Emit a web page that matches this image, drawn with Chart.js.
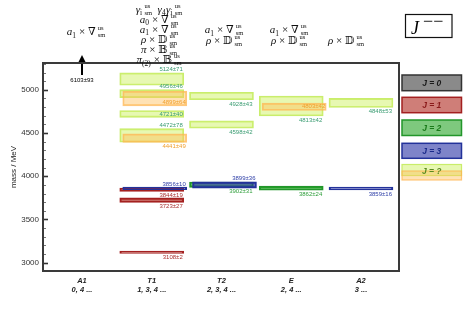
<!DOCTYPE html>
<html><head><meta charset="utf-8">
<script src="https://cdn.jsdelivr.net/npm/chart.js@4/dist/chart.umd.min.js"></script>
<style>html,body{margin:0;padding:0;background:#fff}canvas{display:block}</style>
</head><body><canvas id="c" width="463" height="314"></canvas>
<script>
// ---------- data ----------
const irreps = ['A1','T1','T2','E','A2'];
const irrepSpins = ['0, 4 ...','1, 3, 4 ...','2, 3, 4 ...','2, 4 ...','3 ...'];
const yTicks = [3000,3500,4000,4500,5000];

const levelIrrep = [0,1,1,1,1,1,1,1,1,1,1,2,2,2,2,3,3,3,4,4];
const levelMass  = [6103,5124,4956,4899,4721,4472,4441,3856,3844,3723,3108,4928,4598,3899,3902,4813,4803,3862,4848,3859];
const levelErr   = [93,71,46,85,40,78,49,10,19,27,2,43,42,36,31,115,42,24,53,16];
const levelLabel = ['6103±93','5124±71','4956±46','4899±64','4721±40','4472±78','4441±49','3856±10','3844±19','3723±27','3108±2','4928±43','4598±42','3899±36','3902±31','4813±42','4803±42','3862±24','4848±53','3859±16'];
const levelSpin  = ['0','?','?','?b','?','?','?b','3','1','1','1','?','?','3','2','?','?b','2','?','3'];

// ---------- styling (not data) ----------
const labelPos = ['arrow','a','a','ib','i','a','b','a','b','b','b','b','b','a','b','b','i','b','b','b'];
const shifted  = [0,0,0,1,0,0,1,1,0,0,0,0,0,1,0,0,1,0,0,0];
const SHIFT = 0.043, HALF = 32, MINBAR = 2.5;

const spinStyle = {
  '0': {fill:'rgba(60,60,60,0.6)',   border:'#333333', text:'#111111', legend:'#1a1a1a'},
  '1': {fill:'rgba(175,40,30,0.6)',  border:'#a32020', text:'#a83030', legend:'#8a1a1a'},
  '2': {fill:'rgba(40,165,40,0.6)',  border:'#22962a', text:'#2e9e3a', legend:'#1a7a1a'},
  '3': {fill:'rgba(40,50,165,0.6)',  border:'#23329a', text:'#3040a8', legend:'#1a2a8a'},
  '?': {fill:'rgba(212,242,115,0.55)', border:'rgba(198,236,100,0.95)', text:'#3a9c72', legend:'#5a8a20'},
  '?b':{fill:'rgba(255,190,90,0.45)', border:'rgba(255,180,80,0.75)', text:'#f0a030', legend:'#5a8a20'}
};
const drawOrder = ['3','2','1','0','?b','?']; // first = on top

const datasets = drawOrder.map(s => {
  const idx = levelSpin.map((v,i)=>v===s?i:-1).filter(i=>i>=0);
  return {
    label: 'J=' + s,
    data: idx.map(i => ({x: levelIrrep[i] + (shifted[i]?SHIFT:0), y: [levelMass[i]-levelErr[i], levelMass[i]+levelErr[i]]})),
    backgroundColor: spinStyle[s].fill,
    borderColor: spinStyle[s].border,
    borderWidth: (s==='?'||s==='?b') ? 1.2 : 1.5,
    borderSkipped: false,
    barThickness: HALF*2,
    grouped: false,
    minBarLength: MINBAR
  };
});

// ---------- math text helper ----------
const SERIF = '"Liberation Serif","DejaVu Serif","DejaVu Sans",serif';
function segFont(type){
  if (type==='i') return 'italic 11px ' + SERIF;
  if (type==='r') return '11px ' + SERIF;
  if (type==='b') return '7.5px ' + SERIF;
  return '6.5px ' + SERIF;
}
function drawMath(ctx, cx, base, segs){
  let w = 0;
  const items = segs.map(sg => {
    let width;
    if (sg[0]==='u') {
      ctx.font = segFont('u');
      width = Math.max(ctx.measureText('us').width, ctx.measureText('sm').width) + 2;
    } else {
      ctx.font = segFont(sg[0]);
      width = ctx.measureText(sg[1]).width + (sg[0]==='b'?0.3:0);
    }
    w += width;
    return {sg, width};
  });
  let x = cx - w/2;
  ctx.fillStyle = '#111';
  ctx.textAlign = 'left';
  ctx.textBaseline = 'alphabetic';
  items.forEach(it => {
    const t = it.sg[0];
    if (t==='u') {
      ctx.font = segFont('u');
      ctx.fillText('us', x+2, base-5);
      ctx.fillText('sm', x+2, base+2);
    } else if (t==='b') {
      ctx.font = segFont('b');
      ctx.fillText(it.sg[1], x, base+2.5);
    } else {
      ctx.font = segFont(t);
      ctx.fillText(it.sg[1], x, base);
    }
    x += it.width;
  });
}
const rowA = [['i','a'],['b','1'],['r',' × ∇'],['u']];
const rowA0 = [['i','a'],['b','0'],['r',' × ∇'],['u']];
const rowRho = [['i','ρ'],['r',' × 𝔻'],['u']];
const rowGam = [['i','γ'],['b','i'],['u'],['r','  '],['i','γ'],['b','4'],['i','γ'],['b','i'],['u']];
const rowPi = [['i','π'],['r',' × 𝔹'],['u']];
const rowPi2 = [['i','π'],['b','(2)'],['r',' × 𝔹'],['u']];
const opColumns = [
  {cx: 86,  rows: [[rowA,35]]},
  {cx: 159, rows: [[rowGam,12.5],[rowA0,22.5],[rowA,32.5],[rowRho,43],[rowPi,53],[rowPi2,63]]},
  {cx: 224, rows: [[rowA,33],[rowRho,44]]},
  {cx: 289, rows: [[rowA,33],[rowRho,44]]},
  {cx: 346, rows: [[rowRho,44]]}
];

const SANS = '"Liberation Sans","Arimo",Arial,sans-serif';

const overlay = {
  id: 'overlay',
  afterDatasetsDraw(chart){
    const ctx = chart.ctx, xs = chart.scales.x, ys = chart.scales.y, ca = chart.chartArea;
    ctx.save();
    ctx.font = '6px ' + SANS;
    levelMass.forEach((m,i) => {
      const st = spinStyle[levelSpin[i]];
      const xc = xs.getPixelForValue(levelIrrep[i] + (shifted[i]?SHIFT:0));
      if (m > ys.max) {
        const baseY = ca.top + 12, tipY = ca.top - 8;
        ctx.strokeStyle = '#000'; ctx.fillStyle = '#000'; ctx.lineWidth = 2;
        ctx.beginPath(); ctx.moveTo(xc, baseY); ctx.lineTo(xc, tipY+6); ctx.stroke();
        ctx.beginPath(); ctx.moveTo(xc-3.5, tipY+7); ctx.lineTo(xc+3.5, tipY+7); ctx.lineTo(xc, tipY); ctx.closePath(); ctx.fill();
        ctx.font = '6px ' + SANS;
        ctx.textAlign = 'center'; ctx.textBaseline = 'top';
        ctx.fillText(levelLabel[i], xc, baseY + 2);
        return;
      }
      let top = ys.getPixelForValue(m + levelErr[i]);
      const bot = ys.getPixelForValue(m - levelErr[i]);
      if (bot - top < MINBAR) top = bot - MINBAR;
      const right = xc + HALF - 1;
      ctx.fillStyle = st.text;
      ctx.textAlign = 'right';
      const p = labelPos[i];
      if (p==='a') { ctx.textBaseline='alphabetic'; ctx.fillText(levelLabel[i], right, top - 1.5); }
      else if (p==='b') { ctx.textBaseline='top'; ctx.fillText(levelLabel[i], right, bot + 1.2); }
      else if (p==='i') { ctx.textBaseline='middle'; ctx.fillText(levelLabel[i], right, (top+bot)/2); }
      else if (p==='ib') { ctx.textBaseline='alphabetic'; ctx.fillText(levelLabel[i], right, bot - 1.5); }
    });
    ctx.restore();
  },
  afterDraw(chart){
    const ctx = chart.ctx, ys = chart.scales.y, ca = chart.chartArea;
    ctx.save();
    for (let v = Math.ceil(ys.min/100)*100; v <= ys.max; v += 100) {
      const y = Math.round(ys.getPixelForValue(v)) + 0.5;
      const major = v % 500 === 0;
      ctx.strokeStyle = major ? '#333' : '#777';
      ctx.lineWidth = major ? 1.6 : 1;
      ctx.beginPath(); ctx.moveTo(ca.left, y); ctx.lineTo(ca.left + (major?5:3), y); ctx.stroke();
    }
    ctx.strokeStyle = '#3a3a3a'; ctx.lineWidth = 2;
    ctx.strokeRect(ca.left, ca.top, ca.right - ca.left, ca.bottom - ca.top);
    opColumns.forEach(col => col.rows.forEach(r => drawMath(ctx, col.cx, r[1], r[0])));
    ctx.strokeStyle = '#111'; ctx.lineWidth = 1.2;
    ctx.strokeRect(405.5, 14.5, 46.5, 23);
    ctx.fillStyle = '#000'; ctx.textAlign='left'; ctx.textBaseline='alphabetic';
    ctx.font = 'italic 18px ' + SERIF;
    ctx.fillText('J', 411, 34);
    ctx.font = '18px ' + SERIF;
    ctx.fillText('−−', 423, 27);
    const lx = 402, lw = 59.5;
    const leg = [['0',75,90.7],['1',97.3,112.7],['2',120,135.5],['3',143.3,158.3]];
    ctx.font = 'italic bold 8.5px ' + SANS;
    ctx.textAlign = 'center'; ctx.textBaseline = 'middle';
    leg.forEach(l => {
      const st = spinStyle[l[0]];
      ctx.fillStyle = st.fill; ctx.fillRect(lx, l[1], lw, l[2]-l[1]);
      ctx.strokeStyle = st.border; ctx.lineWidth = 1.5; ctx.strokeRect(lx, l[1], lw, l[2]-l[1]);
      ctx.fillStyle = st.legend; ctx.fillText('J = ' + l[0], lx + lw/2, (l[1]+l[2])/2 + 0.5);
    });
    const sq = spinStyle['?'], so = spinStyle['?b'];
    ctx.fillStyle = sq.fill; ctx.fillRect(lx, 164.5, lw, 11);
    ctx.strokeStyle = sq.border; ctx.lineWidth = 1.2; ctx.strokeRect(lx, 164.5, lw, 11);
    ctx.fillStyle = so.fill; ctx.fillRect(lx, 171, lw, 9);
    ctx.strokeStyle = so.border; ctx.strokeRect(lx, 171, lw, 9);
    ctx.fillStyle = sq.legend; ctx.fillText('J = ?', lx + lw/2, 172);
    ctx.restore();
  }
};

new Chart(document.getElementById('c'), {
  type: 'bar',
  data: { datasets },
  options: {
    responsive: false,
    animation: false,
    events: [],
    layout: { padding: {left: 0, right: 64, top: 63, bottom: 0} },
    plugins: { legend: {display: false}, tooltip: {enabled: false} },
    scales: {
      x: {
        type: 'linear', offset: false, min: -0.559, max: 4.545,
        grid: {display: false, drawTicks: false}, border: {display: false},
        afterBuildTicks: s => { s.ticks = irreps.map((_,i)=>({value:i})); },
        afterFit: s => { s.height = 43; },
        ticks: {
          autoSkip: false, maxRotation: 0, padding: 5, color: '#222',
          font: {family: SANS, size: 7.5, style: 'italic', weight: 'bold', lineHeight: 1.2},
          callback: v => [irreps[v], irrepSpins[v]]
        }
      },
      y: {
        type: 'linear', min: 2904, max: 5310,
        grid: {display: false, drawTicks: false}, border: {display: false},
        afterBuildTicks: s => { s.ticks = yTicks.map(v=>({value:v})); },
        afterFit: s => { s.width = 43; },
        ticks: { padding: 4, color: '#333', font: {family: SANS, size: 8}, callback: v => String(v) },
        title: { display: true, text: 'mass / MeV', color: '#222', font: {family: SANS, size: 8}, padding: {top: 9, bottom: 0} }
      }
    }
  },
  plugins: [overlay]
});
</script></body></html>
